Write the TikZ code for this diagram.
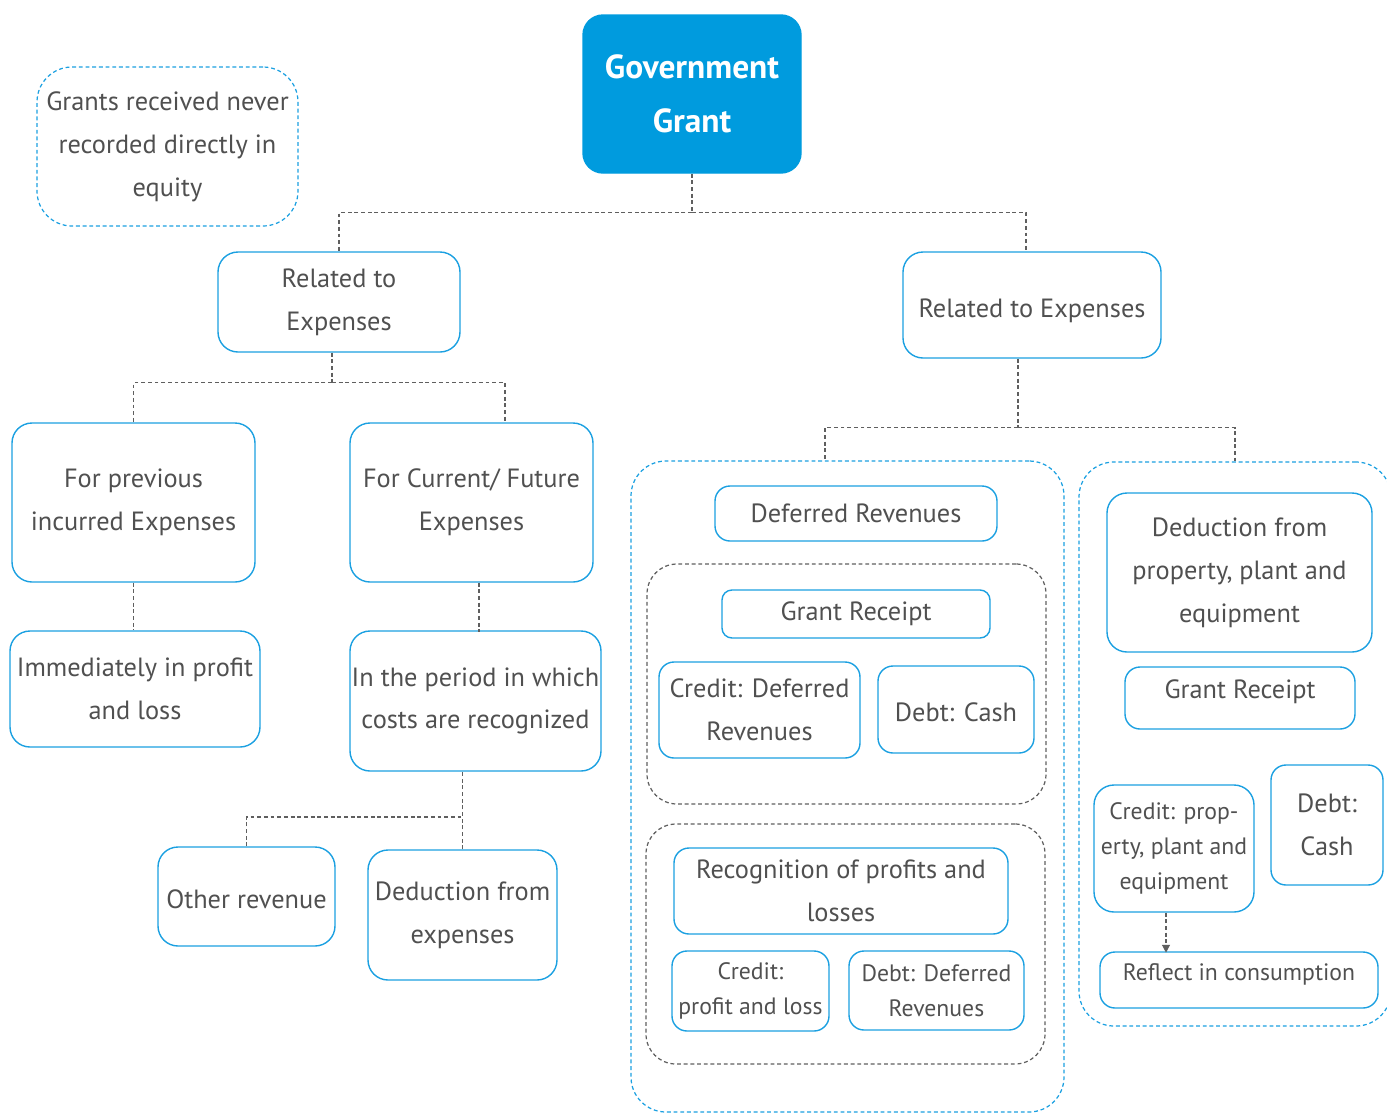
\documentclass[tikz,border=0pt]{standalone}
\usepackage{fontspec}
\setmainfont{PT Sans}
\usetikzlibrary{positioning,arrows.meta}
\definecolor{grantblue}{RGB}{0,155,222}
\definecolor{boxline}{RGB}{27,160,225}
\definecolor{txtgray}{RGB}{80,80,80}
\definecolor{linkgray}{RGB}{95,95,95}

\begin{document}
\begin{tikzpicture}[x=0.02cm,y=-0.02cm,
  every node/.style={font=\fontsize{15}{24.4}\selectfont,text=txtgray,align=center},
  boxsize/.style 2 args={minimum width=#1*0.02cm,minimum height=#2*0.02cm},
  box/.style={draw=boxline,line width=0.8pt,rounded corners=0.4cm,inner sep=0pt},
  smallbox/.style={box,font=\fontsize{13.5}{19.8}\selectfont},
  group/.style={draw=boxline,dash pattern=on 2.2pt off 1.6pt,line width=0.7pt,rounded corners=0.7cm,inner sep=0pt},
  subgroup/.style={group,draw=linkgray,rounded corners=0.6cm},
  link/.style={draw=linkgray,dash pattern=on 2.2pt off 1.6pt,line width=0.7pt}]
\useasboundingbox (0,0) rectangle (1387,1113);

% top
\node[box,fill=grantblue,draw=grantblue,text=white,boxsize={218}{158},
  font=\fontsize{19}{30.5}\selectfont\bfseries] (gov) at (692,94) {Government\\Grant};
\node[group,boxsize={261}{159}] (note) at (167.5,146.5) {Grants received never\\recorded directly in\\equity};

\node[box,boxsize={242}{100}] (relL) at (339,302) {Related to\\Expenses};
\node[box,boxsize={258}{106},text height=0.6cm] (relR) at (1032,305) {Related to Expenses};

% left branch
\node[box,boxsize={243}{159}] (prev) at (133.5,502.5) {For previous\\incurred Expenses};
\node[box,boxsize={243}{159}] (curr) at (471.5,502.5) {For Current/ Future\\Expenses};
\node[box,boxsize={250}{116}] (immed) at (135,689) {Immediately in profit\\and loss};
\node[box,boxsize={251}{140}] (period) at (475.5,701) {In the period in which\\costs are recognized};
\node[box,boxsize={177}{99},text height=0.5cm] (other) at (246.5,896.5) {Other revenue};
\node[box,boxsize={189}{130}] (dedexp) at (462.5,915) {Deduction from\\expenses};

% deferred revenues
\node[group,boxsize={433}{651}] (defgrp) at (847.5,786.5) {};
\node[box,boxsize={282}{55},rounded corners=0.3cm] (defrev) at (856,513.5) {Deferred Revenues};
\node[subgroup,boxsize={399}{240}] (rcptgrp) at (846.5,684) {};
\node[box,boxsize={268}{48},rounded corners=0.2cm] (rcpt) at (856,614) {Grant Receipt};
\node[box,boxsize={201}{96},rounded corners=0.3cm] (credDR) at (759.5,710) {Credit: Deferred\\Revenues};
\node[box,boxsize={156}{87},rounded corners=0.3cm,text height=0.5cm] (cash) at (956,709.5) {Debt: Cash};
\node[subgroup,boxsize={399}{240}] (recgrp) at (845.5,944) {};
\node[box,boxsize={334}{86},rounded corners=0.3cm] (recog) at (841,891) {Recognition of profits and\\losses};
\node[smallbox,boxsize={157}{80},rounded corners=0.3cm] (credPL) at (750.5,991) {Credit:\\profit and loss};
\node[smallbox,boxsize={175}{79},rounded corners=0.3cm] (debtDR) at (936.5,990.5) {Debt: Deferred\\Revenues};

% property, plant and equipment
\node[group,boxsize={312}{564}] (ppegrp) at (1235,744) {};
\node[box,boxsize={265}{159}] (dedppe) at (1239.5,572.5) {Deduction from\\property, plant and\\equipment};
\node[box,boxsize={230}{62},rounded corners=0.3cm,text depth=0.35cm] (rcptB) at (1240,698) {Grant Receipt};
\node[smallbox,boxsize={160}{127}] (credPPE) at (1174,848.5) {Credit: prop-\\erty, plant and\\equipment};
\node[box,boxsize={112}{120},rounded corners=0.3cm] (cashB) at (1327,825) {Debt:\\Cash};
\node[smallbox,boxsize={278}{56},rounded corners=0.3cm,text depth=0.3cm] (reflect) at (1239,980) {Reflect in consumption};

% connectors
\draw[link] (gov.south) -- ++(0,39) coordinate (j1);
\draw[link] (j1) -| (relL.north);
\draw[link] (j1) -| ([xshift=-0.12cm]relR.north);
\draw[link] ([xshift=-0.14cm]relL.south) -- ++(0,30) coordinate (j2);
\draw[link] (j2) -| (prev.north);
\draw[link] (j2) -| ([xshift=0.67cm]curr.north);
\draw[link] (prev.south) -- (immed.north -| prev.south);
\draw[link] ([xshift=0.15cm]curr.south) -- ++(0,49);
\draw[link] (dedexp.north) -- (dedexp.north |- period.south);
\draw[link] (other.north) |- (dedexp.north |- 0,817);
\draw[link] ([xshift=-0.28cm]relR.south) -- ++(0,69) coordinate (j3);
\draw[link] (j3) -| ([xshift=-0.45cm]defgrp.north);
\draw[link] (j3) -| (ppegrp.north);
\draw[link,-{Triangle[length=4.5pt,width=4.5pt]}] ([xshift=-0.16cm]credPPE.south) -- ++(0,40);
\end{tikzpicture}
\end{document}
